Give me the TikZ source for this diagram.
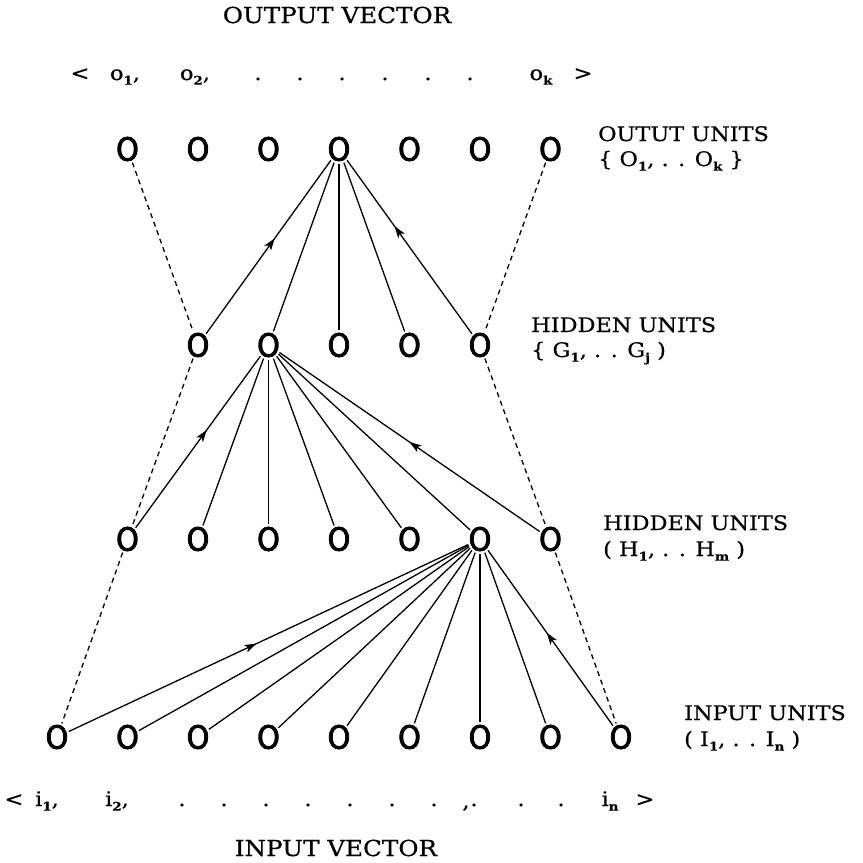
\documentclass[tikz,border=0pt]{standalone}
\usepackage{fontspec}
\usetikzlibrary{shapes.geometric,arrows.meta,decorations.markings}
\newfontfamily\lblfont{DejaVu Serif}[FakeStretch=1.12,FakeBold=0.6]
\newfontfamily\unitfont{DejaVu Sans}[FakeStretch=0.9,FakeBold=2.6]
\newcommand\lsub[1]{\raisebox{-0.45ex}{\fontsize{12}{12}\selectfont\bfseries #1}}
\tikzset{
  unit/.style={ellipse, minimum width=25pt, minimum height=29pt, inner sep=0pt,
    label={[font=\unitfont\fontsize{32}{32}\selectfont, inner sep=0pt]center:O}},
  conn/.style={line width=1.3pt},
  dconn/.style={line width=1.3pt, dash pattern=on 5pt off 4pt},
  midarrow/.style={postaction={decorate}, decoration={markings,
    mark=at position #1 with {\arrow{Stealth[length=12pt,width=8pt,inset=3pt]}}}},
  lbl/.style={font=\lblfont\fontsize{20}{20}\selectfont, inner sep=0pt, anchor=base west},
  vec/.style={font=\lblfont\fontsize{20}{20}\selectfont, inner sep=0pt, anchor=base},
  ttl/.style={font=\lblfont\fontsize{22}{22}\selectfont, inner sep=0pt, anchor=base}
}
\begin{document}
\begin{tikzpicture}[x=1pt,y=-1pt]
\useasboundingbox (0,0) rectangle (863,863);
% output units
\foreach \k in {1,...,7} { \node[unit] (o\k) at ({57+70.5*\k},149) {}; }
% hidden G
\foreach \k [evaluate=\k as \c using int(\k-1)] in {2,...,6} { \node[unit] (g\c) at ({57+70.5*\k},345) {}; }
% hidden H
\foreach \k in {1,...,7} { \node[unit] (h\k) at ({57+70.5*\k},539) {}; }
% input
\foreach \k [evaluate=\k as \c using int(\k+1)] in {0,...,8} { \node[unit] (i\c) at ({57+70.5*\k},737) {}; }

% O4 to G
\draw[conn, midarrow=0.55] (g1) -- (o4);
\draw[conn] (g2) -- (o4);
\draw[conn] (g3) -- (o4);
\draw[conn] (g4) -- (o4);
\draw[conn, midarrow=0.62] (g5) -- (o4);
\draw[dconn] (o1) -- (g1);
\draw[dconn] (o7) -- (g5);
% G2 to H
\draw[conn, midarrow=0.57] (h1) -- (g2);
\foreach \k in {2,...,6} { \draw[conn] (h\k) -- (g2); }
\draw[conn, midarrow=0.5] (h7) -- (g2);
\draw[dconn] (g1) -- (h1);
\draw[dconn] (g5) -- (h7);
% H6 to inputs
\draw[conn, midarrow=0.47] (i1) -- (h6);
\foreach \k in {2,...,8} { \draw[conn] (i\k) -- (h6); }
\draw[conn, midarrow=0.53] (i9) -- (h6);
\draw[dconn] (h1) -- (i1);
\draw[dconn] (h7) -- (i9);

% titles
\node[ttl] (tout) at (337,23) {OUTPUT VECTOR};
\node[ttl] (tin) at (336,856) {INPUT VECTOR};

% output vector row
\node[vec] (ov0) at (80,80) {<};
\node[vec] (ov1) at (125,80) {o\lsub{1},};
\node[vec] (ov2) at (195,80) {o\lsub{2},};
\foreach \x [count=\n] in {258,300,342,385,428,470} { \node[vec] (od\n) at (\x,80) {.}; }
\node[vec] (ovk) at (541,80) {o\lsub{k}};
\node[vec] (ove) at (583,80) {>};

% input vector row
\node[vec] (iv0) at (14,806) {<};
\node[vec] (iv1) at (47,806) {i\lsub{1},};
\node[vec] (iv2) at (117,806) {i\lsub{2},};
\foreach \x [count=\n] in {182,224,266,308,350,392,434,474,521,561} { \node[vec] (id\n) at (\x,806) {.}; }
\node[vec] (itk) at (466,808) {,};
\node[vec] (ivn) at (610,806) {i\lsub{n}};
\node[vec] (ive) at (645,806) {>};

% right labels
\node[lbl] (lo1) at (598,141) {OUTUT UNITS};
\node[lbl] (lo2) at (598,166) {\{ O\lsub{1}, . . O\lsub{k} \}};
\node[lbl] (lg1) at (531,332) {HIDDEN UNITS};
\node[lbl] (lg2) at (531,357) {\{ G\lsub{1}, . . G\lsub{j} )};
\node[lbl] (lh1) at (603,530) {HIDDEN UNITS};
\node[lbl] (lh2) at (603,556) {( H\lsub{1}, . . H\lsub{m} )};
\node[lbl] (li1) at (684,720) {INPUT UNITS};
\node[lbl] (li2) at (684,746) {( I\lsub{1}, . . I\lsub{n} )};
\end{tikzpicture}
\end{document}
